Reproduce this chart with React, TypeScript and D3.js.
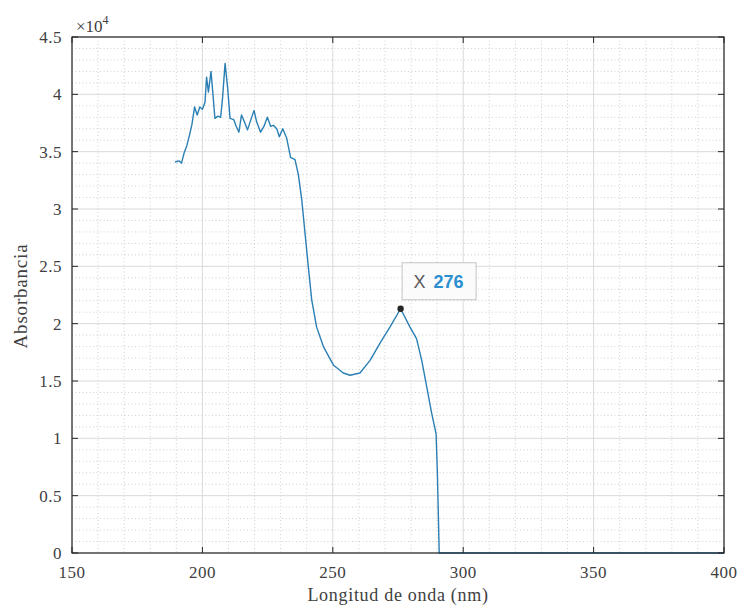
import { useEffect, useRef } from "react";
import * as d3 from "d3";

// longitud de onda (nm) y absorbancia
const wavelength = [
  189.5, 191, 192, 193, 194, 195, 196, 197, 198, 199, 200, 201, 201.6, 202.3, 203.3, 203.9,
  204.8, 206, 207, 207.7, 208.7, 209.7, 210.6, 212, 213, 214, 215, 216.3, 217.3, 218.3, 219.8,
  220.8, 222.3, 223.6, 224.9, 226.2, 227.2, 228.5, 229.5, 230.8, 232.3, 233.8, 235.5, 236.8,
  238.1, 239.3, 240.6, 241.9, 243.8, 246.4, 250.2, 254, 256.6, 260.4, 264.3, 268.1, 271.9, 276,
  279.6, 282.1, 284.1, 286, 287.9, 289.6, 290.1, 290.8, 400,
];
const absorbance = [
  34100, 34200, 34000, 34900, 35500, 36400, 37400, 38900, 38200, 38900, 38700, 39300, 41500,
  40200, 42000, 40400, 37900, 38100, 38000, 39600, 42700, 40500, 37900, 37800, 37200, 36700,
  38200, 37500, 36900, 37600, 38600, 37600, 36700, 37200, 38000, 37200, 37300, 37000, 36300,
  37000, 36200, 34500, 34300, 33000, 30800, 28000, 25000, 22100, 19700, 18000, 16400, 15700,
  15500, 15700, 16800, 18300, 19700, 21300, 19700, 18700, 16800, 14500, 12200, 10400, 7000, 0, 0,
];

const xTicks = [150, 200, 250, 300, 350, 400];
const yTicks = [0, 0.5, 1, 1.5, 2, 2.5, 3, 3.5, 4, 4.5];
const cursorX = 276;
const cursorY = 21300;

const App = () => {
  const svgRef = useRef<SVGSVGElement>(null);

  useEffect(() => {
    const svg = d3.select(svgRef.current);
    const width = 740;
    const height = 613;
    const margin = { top: 37, right: 16, bottom: 60, left: 72 };
    const fontSerif = "'Liberation Serif', 'Times New Roman', serif";
    const textColor = "#404040";

    svg.selectAll("*").remove();

    const x = d3.scaleLinear().domain([150, 400]).range([margin.left, width - margin.right]);
    const y = d3.scaleLinear().domain([0, 45000]).range([height - margin.bottom, margin.top]);

    const x0 = margin.left;
    const x1 = width - margin.right;
    const y0 = height - margin.bottom;
    const y1 = margin.top;

    svg.append("rect").attr("width", width).attr("height", height).attr("fill", "#fff");

    // rejilla menor
    const g = svg.append("g");
    d3.range(150, 401, 10).filter((v) => v % 50 !== 0).forEach((v) => {
      g.append("line")
        .attr("x1", x(v)).attr("x2", x(v)).attr("y1", y1).attr("y2", y0)
        .attr("stroke", "#c4c4c4").attr("stroke-width", 0.8).attr("stroke-dasharray", "1,2.5");
    });
    d3.range(0, 45001, 1000).filter((v) => v % 5000 !== 0).forEach((v) => {
      g.append("line")
        .attr("x1", x0).attr("x2", x1).attr("y1", y(v)).attr("y2", y(v))
        .attr("stroke", "#c4c4c4").attr("stroke-width", 0.8).attr("stroke-dasharray", "1,2.5");
    });

    // rejilla mayor
    xTicks.forEach((v) => {
      g.append("line").attr("x1", x(v)).attr("x2", x(v)).attr("y1", y1).attr("y2", y0)
        .attr("stroke", "#dadada").attr("stroke-width", 1);
    });
    yTicks.forEach((v) => {
      g.append("line").attr("x1", x0).attr("x2", x1).attr("y1", y(v * 1e4)).attr("y2", y(v * 1e4))
        .attr("stroke", "#dadada").attr("stroke-width", 1);
    });

    // curva
    const pts: [number, number][] = wavelength.map((w, i) => [w, absorbance[i]]);
    svg.append("path")
      .datum(pts)
      .attr("fill", "none")
      .attr("stroke", "#2a7fb5")
      .attr("stroke-width", 1.4)
      .attr("stroke-linejoin", "round")
      .attr("d", d3.line().x((d) => x(d[0])).y((d) => y(d[1])));

    // marco y marcas
    svg.append("rect").attr("x", x0).attr("y", y1).attr("width", x1 - x0).attr("height", y0 - y1)
      .attr("fill", "none").attr("stroke", "#262626").attr("stroke-width", 1.2);
    xTicks.forEach((v) => {
      svg.append("line").attr("x1", x(v)).attr("x2", x(v)).attr("y1", y0).attr("y2", y0 - 6).attr("stroke", "#262626");
      svg.append("line").attr("x1", x(v)).attr("x2", x(v)).attr("y1", y1).attr("y2", y1 + 6).attr("stroke", "#262626");
      svg.append("text").attr("x", x(v)).attr("y", y0 + 25).attr("text-anchor", "middle")
        .attr("font-family", fontSerif).attr("font-size", 17).attr("letter-spacing", 0.5)
        .attr("fill", textColor).text(v);
    });
    yTicks.forEach((v) => {
      svg.append("line").attr("x1", x0).attr("x2", x0 + 6).attr("y1", y(v * 1e4)).attr("y2", y(v * 1e4)).attr("stroke", "#262626");
      svg.append("line").attr("x1", x1).attr("x2", x1 - 6).attr("y1", y(v * 1e4)).attr("y2", y(v * 1e4)).attr("stroke", "#262626");
      svg.append("text").attr("x", x0 - 10).attr("y", y(v * 1e4) + 6).attr("text-anchor", "end")
        .attr("font-family", fontSerif).attr("font-size", 17).attr("letter-spacing", 0.5)
        .attr("fill", textColor).text(v);
    });

    // exponente
    const ex = svg.append("text").attr("x", x0 + 4).attr("y", y1 - 5)
      .attr("font-family", fontSerif).attr("font-size", 17).attr("fill", textColor);
    ex.append("tspan").text("×10");
    ex.append("tspan").attr("dy", -8).attr("font-size", 12).text("4");

    // títulos
    svg.append("text").attr("x", (x0 + x1) / 2).attr("y", 601).attr("text-anchor", "middle")
      .attr("font-family", fontSerif).attr("font-size", 18).attr("letter-spacing", 0.7)
      .attr("fill", textColor).text("Longitud de onda (nm)");
    svg.append("text").attr("transform", `translate(27,296) rotate(-90)`).attr("text-anchor", "middle")
      .attr("font-family", fontSerif).attr("font-size", 19).attr("letter-spacing", 0.8)
      .attr("fill", textColor).text("Absorbancia");

    // cursor de datos
    const cx = x(cursorX);
    const cy = y(cursorY);
    const tip = svg.append("g");
    tip.append("rect").attr("x", cx + 1.5).attr("y", cy - 46).attr("width", 74).attr("height", 37)
      .attr("fill", "#fbfbfb").attr("stroke", "#c4c4c4").attr("stroke-width", 1);
    tip.append("text").attr("x", cx + 13).attr("y", cy - 21)
      .attr("font-family", "'Liberation Sans', Arial, sans-serif").attr("font-size", 18).attr("fill", "#5a5a5a").text("X");
    tip.append("text").attr("x", cx + 33).attr("y", cy - 21)
      .attr("font-family", "'Liberation Sans', Arial, sans-serif").attr("font-size", 18).attr("font-weight", "bold")
      .attr("fill", "#2a8fd0").text(cursorX);
    tip.append("circle").attr("cx", cx).attr("cy", cy).attr("r", 3.2).attr("fill", "#262626");
  }, []);

  return (
    <svg
      ref={svgRef}
      width={740}
      height={613}
      style={{ position: "absolute", left: 0, top: 0, display: "block" }}
    ></svg>
  );
};

export default App;
